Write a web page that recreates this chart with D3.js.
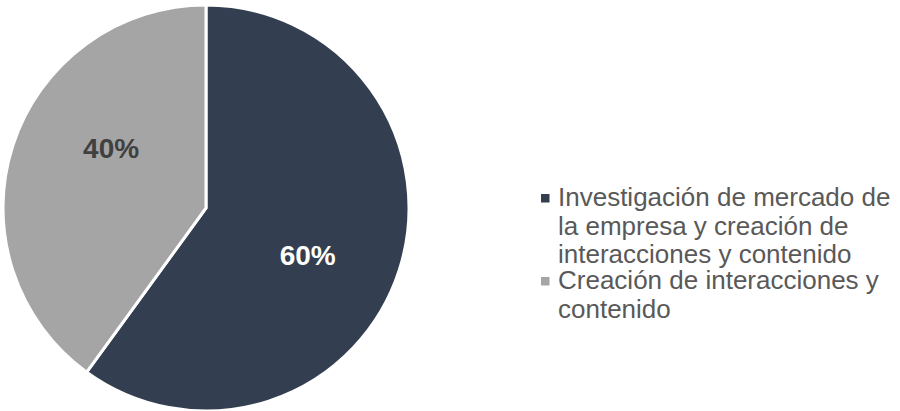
<!DOCTYPE html>
<html>
<head>
<meta charset="utf-8">
<script src="https://cdn.jsdelivr.net/npm/d3@7"></script>
<style>
  html, body { margin: 0; padding: 0; background: #ffffff; }
  svg { display: block; }
</style>
</head>
<body>
<svg id="chart" width="900" height="411"></svg>
<script>
// Share of respondents by activity type
const categories = [
  "Investigación de mercado de la empresa y creación de interacciones y contenido",
  "Creación de interacciones y contenido"
];
const values = [60, 40];
const valueLabels = ["60%", "40%"];
// Legend entries wrapped as they are displayed
const legendLines = [
  ["Investigación de mercado de", "la empresa y creación de", "interacciones y contenido"],
  ["Creación de interacciones y", "contenido"]
];
const colors = ["#333f50", "#a5a5a5"];
const labelColors = ["#ffffff", "#404040"];

const svg = d3.select("#chart");
const cx = 206, cy = 208, radius = 203;

const pie = d3.pie().sort(null).value(d => d);
const arcs = pie(values);
const arc = d3.arc().innerRadius(0).outerRadius(radius);

const g = svg.append("g").attr("transform", `translate(${cx},${cy})`);

g.selectAll("path.slice")
  .data(arcs)
  .enter().append("path")
  .attr("class", "slice")
  .attr("d", arc)
  .attr("fill", (d, i) => colors[i])
  .attr("stroke", "#ffffff")
  .attr("stroke-width", 3)
  .attr("stroke-linejoin", "miter");

// Value labels: placed on a ring inside each slice, turned slightly clockwise
const labelRadius = 112;
const labelTurn = [0.119, 0.246];
g.selectAll("text.val")
  .data(arcs)
  .enter().append("text")
  .attr("class", "val")
  .attr("x", (d, i) => labelRadius * Math.sin((d.startAngle + d.endAngle) / 2 + labelTurn[i]))
  .attr("y", (d, i) => -labelRadius * Math.cos((d.startAngle + d.endAngle) / 2 + labelTurn[i]))
  .attr("text-anchor", "middle")
  .attr("dominant-baseline", "central")
  .attr("font-family", "Liberation Sans, Arial, sans-serif")
  .attr("font-weight", "bold")
  .attr("font-size", 28)
  .attr("fill", (d, i) => labelColors[i])
  .text((d, i) => valueLabels[i]);

// Legend
const legend = svg.append("g").attr("transform", "translate(541,0)");
const entryTop = [206, 289];
const lineStep = 28.5;
legendLines.forEach((lines, i) => {
  const e = legend.append("g");
  e.append("rect")
    .attr("x", 0)
    .attr("y", entryTop[i] - 12)
    .attr("width", 8.5)
    .attr("height", 8.5)
    .attr("fill", colors[i]);
  lines.forEach((t, j) => {
    e.append("text")
      .attr("x", 17)
      .attr("y", entryTop[i] + j * lineStep)
      .attr("font-family", "Liberation Sans, Arial, sans-serif")
      .attr("font-size", 26)
      .attr("fill", "#595959")
      .text(t);
  });
});
</script>
</body>
</html>
